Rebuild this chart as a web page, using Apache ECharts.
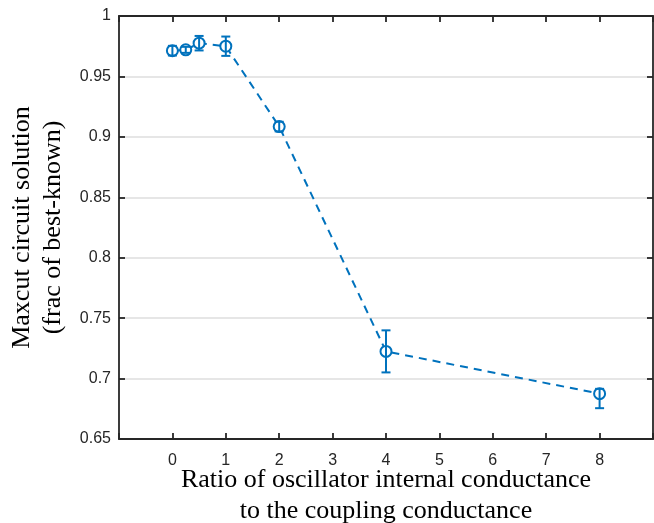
<!DOCTYPE html>
<html>
<head>
<meta charset="utf-8">
<script src="https://cdn.jsdelivr.net/npm/echarts@6/dist/echarts.min.js"></script>
<style>
  html, body { margin: 0; padding: 0; background: #fff; }
  #chart { width: 654px; height: 523px; }
</style>
</head>
<body>
<div id="chart"></div>
<script>
// ratio of oscillator internal conductance to coupling conductance
var ratio = [0, 0.25, 0.5, 1, 2, 4, 8];
// maxcut solution, fraction of best-known
var meanFrac = [0.9713, 0.972, 0.9775, 0.975, 0.9085, 0.7225, 0.6875];
var errLow = [0.004, 0.0025, 0.006, 0.008, 0.004, 0.0174, 0.012];
var errHigh = [0.004, 0.0025, 0.006, 0.008, 0.004, 0.0174, 0.004];
var xTicks = [0, 1, 2, 3, 4, 5, 6, 7, 8];
var yTicks = [0.65, 0.7, 0.75, 0.8, 0.85, 0.9, 0.95, 1];

var blue = '#0072BD';
var axisColor = '#262626';

var lineData = ratio.map(function(x, i){ return [x, meanFrac[i]]; });
var errData = ratio.map(function(x, i){
    return [x, meanFrac[i] - errLow[i], meanFrac[i] + errHigh[i]];
});

function tickLabel(v){
    // 只显示 0..8
    return xTicks.indexOf(v) >= 0 ? String(v) : '';
}
function yLabel(v){
    var r = Math.round(v * 100) / 100;
    return yTicks.indexOf(r) >= 0 ? String(r) : '';
}

var axisLine = { show: true, onZero: false, lineStyle: { color: axisColor, width: 1.8 } };
var axisTick = { show: true, inside: true, length: 6, lineStyle: { color: axisColor, width: 1.8 } };
var tickFont = { color: axisColor, fontSize: 16, fontFamily: 'Liberation Sans, Arial, sans-serif' };
var titleFont = { fontFamily: 'Liberation Serif, Times New Roman, serif', fontSize: 26, color: '#000', lineHeight: 31 };

var myChart = echarts.init(document.getElementById('chart'));
var option = {
    animation: false,
    grid: { left: 119, right: 1, top: 16, bottom: 84, containLabel: false, outerBoundsMode: 'none' },
    xAxis: [{
        type: 'value', min: -1, max: 9, interval: 1,
        axisLine: axisLine, axisTick: axisTick,
        splitLine: { show: false },
        axisLabel: Object.assign({ formatter: tickLabel, margin: 14 }, tickFont),
        name: 'Ratio of oscillator internal conductance\nto the coupling conductance',
        nameLocation: 'middle', nameGap: 26, nameMoveOverlap: false,
        nameTextStyle: titleFont
    }, {
        type: 'value', position: 'top', min: -1, max: 9, interval: 1,
        axisLine: axisLine, axisTick: axisTick,
        axisLabel: { show: false }, splitLine: { show: false }
    }],
    yAxis: [{
        type: 'value', min: 0.65, max: 1, interval: 0.05,
        axisLine: axisLine, axisTick: axisTick,
        splitLine: { show: true, lineStyle: { color: '#dedede', width: 1.5 } },
        axisLabel: Object.assign({ formatter: yLabel, margin: 8 }, tickFont),
        name: 'Maxcut circuit solution\n(frac of best-known)',
        nameLocation: 'middle', nameGap: 50, nameMoveOverlap: false,
        nameTextStyle: titleFont
    }, {
        type: 'value', position: 'right', min: 0.65, max: 1, interval: 0.05,
        axisLine: axisLine, axisTick: axisTick,
        axisLabel: { show: false }, splitLine: { show: false }
    }],
    series: [{
        type: 'line',
        data: lineData,
        symbol: 'emptyCircle',
        symbolSize: 11,
        lineStyle: { color: blue, width: 2, type: [8, 6] },
        itemStyle: { color: blue, borderColor: blue, borderWidth: 2 },
        z: 3
    }, {
        type: 'custom',
        data: errData,
        renderItem: function(params, api){
            var lo = api.coord([api.value(0), api.value(1)]);
            var hi = api.coord([api.value(0), api.value(2)]);
            var w = 4.5;
            var style = { stroke: blue, lineWidth: 2, fill: null };
            return {
                type: 'group',
                children: [
                    { type: 'line', shape: { x1: lo[0], y1: lo[1], x2: hi[0], y2: hi[1] }, style: style },
                    { type: 'line', shape: { x1: lo[0] - w, y1: lo[1], x2: lo[0] + w, y2: lo[1] }, style: style },
                    { type: 'line', shape: { x1: hi[0] - w, y1: hi[1], x2: hi[0] + w, y2: hi[1] }, style: style }
                ]
            };
        },
        z: 4
    }]
};
myChart.setOption(option);
</script>
</body>
</html>
